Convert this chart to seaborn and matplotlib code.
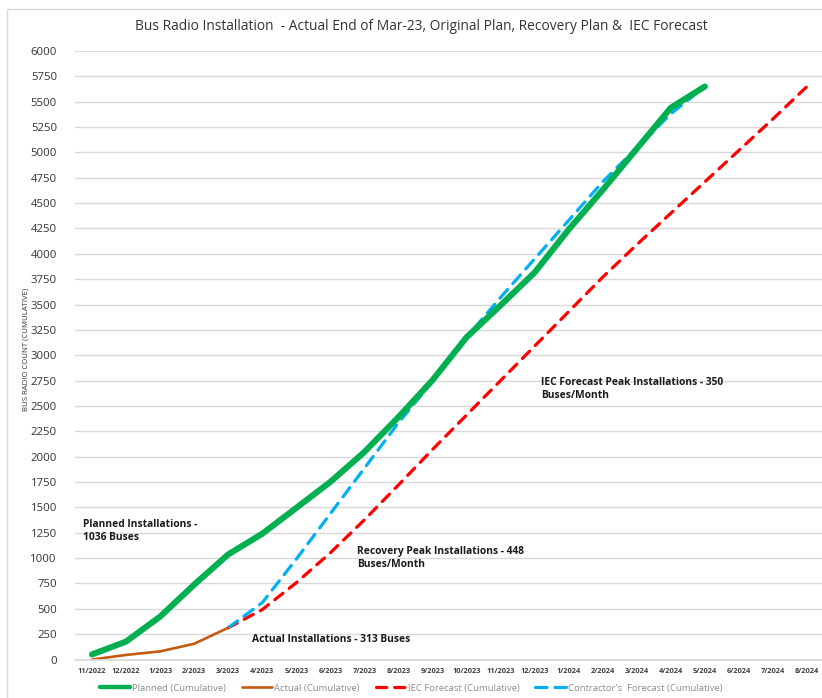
import matplotlib
matplotlib.use("Agg")
import matplotlib.pyplot as plt
from matplotlib.patches import Rectangle
from matplotlib.lines import Line2D
import seaborn as sns
import pandas as pd

months = ["11/2022", "12/2022", "1/2023", "2/2023", "3/2023", "4/2023", "5/2023",
          "6/2023", "7/2023", "8/2023", "9/2023", "10/2023", "11/2023", "12/2023",
          "1/2024", "2/2024", "3/2024", "4/2024", "5/2024", "6/2024", "7/2024", "8/2024"]

planned = [50, 177, 423, 738, 1036, 1240, 1495, 1751, 2046, 2390, 2754, 3177,
           3492, 3816, 4239, 4630, 5036, 5440, 5650]
actual = [0, 45, 80, 155, 313]
iec_forecast = [313, 492, 757, 1052, 1377, 1721, 2070, 2410, 2750, 3090, 3430,
                3770, 4090, 4400, 4710, 5020, 5330, 5650]
contractor_forecast = [313, 560, 990, 1438, 1886, 2334, 2740, 3177, 3570, 3950,
                       4330, 4710, 5046, 5380, 5650]

series = [
    ("Planned (Cumulative)", planned, months[0]),
    ("Actual (Cumulative)", actual, months[0]),
    ("IEC Forecast (Cumulative)", iec_forecast, "3/2023"),
    ("Contractor's  Forecast (Cumulative)", contractor_forecast, "3/2023"),
]

frames = []
for name, vals, start in series:
    i0 = months.index(start)
    frames.append(pd.DataFrame({
        "series": name,
        "month": months[i0:i0 + len(vals)],
        "pos": list(range(i0, i0 + len(vals))),
        "count": vals,
    }))
df = pd.concat(frames, ignore_index=True)

sns.set_theme(style="white")
plt.rcParams["font.family"] = ["Open Sans", "DejaVu Sans"]

W, H = 822, 698
fig = plt.figure(figsize=(W / 100, H / 100), dpi=100)
ax = fig.add_axes([75 / W, (H - 659.5) / H, 749 / W, (659.5 - 51) / H])

styles = {
    "Planned (Cumulative)": dict(color="#00b050", lw=4.4, ls="-"),
    "Actual (Cumulative)": dict(color="#c55a11", lw=1.9, ls="-"),
    "IEC Forecast (Cumulative)": dict(color="#ff0000", lw=2.3, ls=(0, (3.2, 2.5))),
    "Contractor's  Forecast (Cumulative)": dict(color="#00b0f0", lw=2.3, ls=(0, (3.6, 2.5))),
}
order = ["IEC Forecast (Cumulative)", "Contractor's  Forecast (Cumulative)",
         "Actual (Cumulative)", "Planned (Cumulative)"]
for name in order:
    st = styles[name]
    sub = df[df["series"] == name]
    sns.lineplot(data=sub, x="pos", y="count", ax=ax, color=st["color"],
                 linewidth=st["lw"], linestyle=st["ls"], legend=False,
                 solid_capstyle="round", dash_capstyle="round",
                 solid_joinstyle="round")

ax.set_xlim(-0.5, len(months) - 0.5)
ax.set_ylim(0, 6000)
ax.set_yticks(range(0, 6001, 250))
ax.set_xticks(range(len(months)))
ax.set_xticklabels(months, fontsize=5.3, fontweight="bold", color="#404040")
ax.tick_params(axis="x", length=0, pad=6)
ax.tick_params(axis="y", length=0, pad=13, labelsize=8.2, labelcolor="#333333")
ax.grid(axis="y", color="#d9d9d9", linewidth=1.0)
ax.grid(axis="x", visible=False)
for side in ["top", "right", "left"]:
    ax.spines[side].set_visible(False)
ax.spines["bottom"].set_color("#d9d9d9")
ax.set_xlabel("")
ax.set_ylabel("BUS RADIO COUNT (CUMULATIVE)", fontsize=5.6, color="#333333")
ax.yaxis.set_label_coords(29.5 / W, 0.5, transform=fig.transFigure)

fig.text(421 / W, 1 - 27 / H,
         "Bus Radio Installation  - Actual End of Mar-23, Original Plan, Recovery Plan &  IEC Forecast",
         ha="center", va="center", fontsize=9.9, color="#333333")

notes = [
    (83, 531, "Planned Installations -\n1036 Buses"),
    (357, 558, "Recovery Peak Installations - 448\nBuses/Month"),
    (252, 640, "Actual Installations - 313 Buses"),
    (541, 389, "IEC Forecast Peak Installations - 350\nBuses/Month"),
]
for x, y, s in notes:
    fig.text(x / W, 1 - y / H, s, ha="left", va="center", fontsize=7.4,
             fontweight="bold", color="#1a1a1a", linespacing=1.3)

labels = ["Planned (Cumulative)", "Actual (Cumulative)",
          "IEC Forecast (Cumulative)", "Contractor's  Forecast (Cumulative)"]
handles = [Line2D([], [], color=styles[n]["color"],
                  lw=3.2 if n == "Planned (Cumulative)" else styles[n]["lw"],
                  ls=styles[n]["ls"], solid_capstyle="round", dash_capstyle="round")
           for n in labels]
fig.legend(handles, labels, loc="center", bbox_to_anchor=(411 / W, 1 - 688 / H),
           ncol=4, frameon=False, fontsize=6.8, labelcolor="#8c8c8c",
           handlelength=3.2, handletextpad=0.2, columnspacing=1.7)

fig.patches.append(Rectangle((7 / W, -0.1), 1.2, 1.1 - 9 / H, transform=fig.transFigure,
                             fill=False, edgecolor="#d9d9d9", linewidth=1.0, zorder=0))

fig.savefig("out.png", dpi=100, facecolor="white")
